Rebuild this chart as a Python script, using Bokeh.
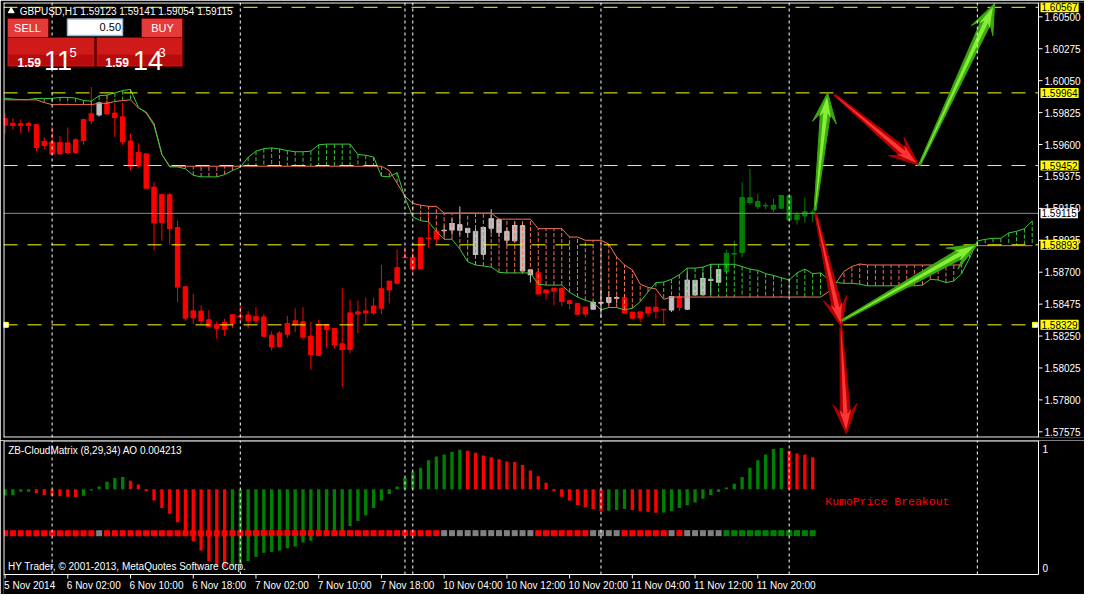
import math
from bokeh.plotting import figure
from bokeh.layouts import column
from bokeh.models import Range1d, Span, Label, BoxAnnotation
from bokeh.core.properties import value
from bokeh.embed import file_html
from bokeh.resources import INLINE

# ------------------------------------------------------------------ data
SYMBOL = "GBPUSD,H1"
INDICATOR = "ZB-CloudMatrix (8,29,34)"
SIGNAL_TEXT = "KumoPrice Breakout"
COPYRIGHT = "HY Trader, \u00a9 2001-2013, MetaQuotes Software Corp."
LOT = "0.50"
ASK = 1.59143

OPEN = [1.59783, 1.59750, 1.59746, 1.59750, 1.59740, 1.59593, 1.59618, 1.59534, 1.59612, 1.59544,
        1.59628, 1.59767, 1.59808, 1.59892, 1.59822, 1.59795, 1.59625, 1.59449, 1.59534, 1.59300,
        1.59049, 1.59246, 1.59015, 1.58597, 1.58378, 1.58426, 1.58365, 1.58331, 1.58297, 1.58338,
        1.58392, 1.58399, 1.58358, 1.58385, 1.58256, 1.58175, 1.58263, 1.58358, 1.58351, 1.58250,
        1.58114, 1.58331, 1.58304, 1.58196, 1.58155, 1.58405, 1.58412, 1.58412, 1.58446, 1.58575,
        1.58622, 1.58802, 1.58805, 1.58724, 1.58941, 1.58934, 1.58992, 1.58997, 1.59036, 1.59009,
        1.58988, 1.58826, 1.59009, 1.59070, 1.58988, 1.58921, 1.59029, 1.58717, 1.58697, 1.58575,
        1.58588, 1.58588, 1.58500, 1.58480, 1.58405, 1.58439, 1.58487, 1.58487, 1.58521, 1.58521,
        1.58419, 1.58378, 1.58412, 1.58453, 1.58439, 1.58433, 1.58527, 1.58439, 1.58643, 1.58541,
        1.58650, 1.58629, 1.58704, 1.58832, 1.58839, 1.59225, 1.59198, 1.59171, 1.59144, 1.59151,
        1.59239, 1.59070, 1.59097, 1.59123]
HIGH = [1.59820, 1.59786, 1.59774, 1.59757, 1.59740, 1.59652, 1.59727, 1.59659, 1.59720, 1.59644,
        1.59783, 1.60005, 1.59901, 1.59955, 1.59892, 1.59896, 1.59677, 1.59610, 1.59534, 1.59334,
        1.59253, 1.59259, 1.59063, 1.58604, 1.58548, 1.58466, 1.58433, 1.58351, 1.58372, 1.58399,
        1.58466, 1.58426, 1.58453, 1.58406, 1.58284, 1.58284, 1.58392, 1.58446, 1.58453, 1.58351,
        1.58365, 1.58331, 1.58304, 1.58588, 1.58507, 1.58500, 1.58521, 1.58521, 1.58751, 1.58636,
        1.58860, 1.58880, 1.58866, 1.58948, 1.59117, 1.58995, 1.59029, 1.59078, 1.59164, 1.59009,
        1.59009, 1.59015, 1.59144, 1.59076, 1.59015, 1.59056, 1.59049, 1.58717, 1.58704, 1.58575,
        1.58588, 1.58588, 1.58500, 1.58480, 1.58453, 1.58500, 1.58568, 1.58568, 1.58534, 1.58521,
        1.58419, 1.58419, 1.58453, 1.58548, 1.58439, 1.58527, 1.58527, 1.58704, 1.58643, 1.58704,
        1.58758, 1.58717, 1.58860, 1.58921, 1.59334, 1.59429, 1.59253, 1.59192, 1.59219, 1.59239,
        1.59239, 1.59124, 1.59225, 1.59141]
LOW = [1.59677, 1.59705, 1.59677, 1.59688, 1.59553, 1.59566, 1.59534, 1.59534, 1.59530, 1.59535,
       1.59598, 1.59745, 1.59797, 1.59817, 1.59654, 1.59596, 1.59417, 1.59440, 1.59293, 1.58853,
       1.58921, 1.58893, 1.58487, 1.58358, 1.58333, 1.58333, 1.58319, 1.58230, 1.58250, 1.58306,
       1.58358, 1.58304, 1.58338, 1.58243, 1.58148, 1.58168, 1.58236, 1.58277, 1.58223, 1.58012,
       1.58114, 1.58168, 1.58162, 1.57891, 1.58128, 1.58270, 1.58338, 1.58399, 1.58405, 1.58480,
       1.58616, 1.58802, 1.58697, 1.58724, 1.58873, 1.58900, 1.58954, 1.58963, 1.58963, 1.58943,
       1.58807, 1.58812, 1.58977, 1.58948, 1.58887, 1.58914, 1.58690, 1.58627, 1.58541, 1.58509,
       1.58466, 1.58460, 1.58439, 1.58401, 1.58385, 1.58439, 1.58378, 1.58473, 1.58480, 1.58412,
       1.58372, 1.58351, 1.58385, 1.58372, 1.58338, 1.58419, 1.58426, 1.58433, 1.58534, 1.58534,
       1.58541, 1.58629, 1.58704, 1.58758, 1.58805, 1.59178, 1.59144, 1.59144, 1.59124, 1.59151,
       1.59070, 1.59036, 1.59049, 1.59054]
CLOSE = [1.59738, 1.59736, 1.59736, 1.59734, 1.59580, 1.59620, 1.59534, 1.59612, 1.59544, 1.59632,
         1.59774, 1.59815, 1.59892, 1.59817, 1.59790, 1.59620, 1.59449, 1.59544, 1.59293, 1.59049,
         1.59246, 1.59009, 1.58597, 1.58378, 1.58426, 1.58358, 1.58319, 1.58306, 1.58345, 1.58399,
         1.58388, 1.58358, 1.58385, 1.58250, 1.58175, 1.58270, 1.58338, 1.58331, 1.58243, 1.58121,
         1.58331, 1.58297, 1.58189, 1.58155, 1.58412, 1.58419, 1.58426, 1.58460, 1.58582, 1.58636,
         1.58731, 1.58805, 1.58724, 1.58941, 1.58938, 1.58988, 1.58995, 1.59043, 1.58997, 1.58982,
         1.58826, 1.59015, 1.59076, 1.58982, 1.58927, 1.59029, 1.58710, 1.58683, 1.58548, 1.58555,
         1.58568, 1.58494, 1.58480, 1.58405, 1.58453, 1.58487, 1.58483, 1.58521, 1.58517, 1.58412,
         1.58378, 1.58419, 1.58453, 1.58426, 1.58436, 1.58527, 1.58453, 1.58643, 1.58541, 1.58656,
         1.58643, 1.58717, 1.58832, 1.58829, 1.59225, 1.59192, 1.59164, 1.59168, 1.59171, 1.59239,
         1.59070, 1.59103, 1.59124, 1.59115]

# cloud state per bar: r = below cloud, n = inside cloud, g = above cloud
STATE_RUNS = [("r", 12), ("n", 1), ("r", 43), ("n", 12), ("r", 7), ("n", 4),
              ("r", 6), ("n", 1), ("r", 1), ("n", 5), ("g", 12)]

SPAN_A = [1.59927, 1.59920, 1.59917, 1.59917, 1.59925, 1.59925, 1.59925, 1.59932, 1.59932, 1.59927,
          1.59910, 1.59906, 1.59944, 1.59948, 1.59964, 1.59980, 1.59989, 1.59862, 1.59822, 1.59734,
          1.59530, 1.59442, 1.59442, 1.59429, 1.59383, 1.59372, 1.59372, 1.59372, 1.59388, 1.59417,
          1.59440, 1.59510, 1.59553, 1.59571, 1.59576, 1.59569, 1.59557, 1.59549, 1.59549, 1.59553,
          1.59598, 1.59603, 1.59603, 1.59603, 1.59603, 1.59530, 1.59524, 1.59512, 1.59377, 1.59372,
          1.59402, 1.59225, 1.59090, 1.59063, 1.59056, 1.58988, 1.58932, 1.58932, 1.58864, 1.58774,
          1.58751, 1.58744, 1.58736, 1.58699, 1.58695, 1.58695, 1.58695, 1.58695, 1.58616, 1.58609,
          1.58609, 1.58609, 1.58559, 1.58525, 1.58502, 1.58487, 1.58435, 1.58451, 1.58451, 1.58435,
          1.58446, 1.58492, 1.58561, 1.58627, 1.58631, 1.58650, 1.58683, 1.58729, 1.58729, 1.58736,
          1.58756, 1.58756, 1.58756, 1.58756, 1.58740, 1.58722, 1.58713, 1.58690, 1.58677, 1.58661,
          1.58645, 1.58695, 1.58722, 1.58690, 1.58695, 1.58650, 1.58627, 1.58622, 1.58622, 1.58616,
          1.58604, 1.58604, 1.58604, 1.58604, 1.58604, 1.58604, 1.58604, 1.58609, 1.58650, 1.58645,
          1.58627, 1.58638, 1.58690, 1.58799, 1.58920, 1.58932, 1.58939, 1.58939, 1.58977, 1.58988,
          1.59007, 1.59061]
SPAN_B = [1.59915, 1.59915, 1.59915, 1.59915, 1.59915, 1.59896, 1.59881, 1.59881, 1.59881, 1.59881,
          1.59881, 1.59881, 1.59891, 1.59891, 1.59903, 1.59910, 1.59915, 1.59858, 1.59828, 1.59747,
          1.59530, 1.59447, 1.59447, 1.59447, 1.59447, 1.59447, 1.59447, 1.59447, 1.59447, 1.59447,
          1.59447, 1.59447, 1.59447, 1.59447, 1.59447, 1.59447, 1.59447, 1.59447, 1.59447, 1.59447,
          1.59447, 1.59447, 1.59447, 1.59447, 1.59447, 1.59447, 1.59447, 1.59447, 1.59447, 1.59417,
          1.59327, 1.59237, 1.59185, 1.59173, 1.59164, 1.59164, 1.59117, 1.59117, 1.59117, 1.59117,
          1.59117, 1.59117, 1.59117, 1.59074, 1.59074, 1.59074, 1.59074, 1.59074, 1.59007, 1.59007,
          1.59007, 1.59007, 1.58948, 1.58948, 1.58925, 1.58925, 1.58925, 1.58898, 1.58807, 1.58751,
          1.58717, 1.58616, 1.58593, 1.58582, 1.58509, 1.58525, 1.58525, 1.58525, 1.58525, 1.58525,
          1.58525, 1.58525, 1.58525, 1.58525, 1.58525, 1.58525, 1.58525, 1.58525, 1.58525, 1.58525,
          1.58525, 1.58525, 1.58525, 1.58525, 1.58525, 1.58561, 1.58627, 1.58706, 1.58740, 1.58758,
          1.58751, 1.58751, 1.58751, 1.58751, 1.58751, 1.58751, 1.58751, 1.58751, 1.58751, 1.58751,
          1.58751, 1.58751, 1.58751, 1.58887, 1.58887, 1.58887, 1.58887, 1.58887, 1.58887, 1.58887,
          1.58887, 1.58887]

AO = [-0.000805, -0.000743, -0.000335, -0.000310, -0.000496, -0.000743, -0.000867, -0.000929, -0.000991, -0.001028,
      -0.000867, -0.000161, 0.000372, 0.000991, 0.001487, 0.001611, 0.001115, 0.000620, -0.000248, -0.001487,
      -0.002478, -0.003221, -0.004337, -0.005910, -0.006852, -0.008091, -0.009503, -0.010098, -0.010259, -0.010222,
      -0.009825, -0.009503, -0.008921, -0.008388, -0.008264, -0.008091, -0.007769, -0.007558, -0.007025, -0.006815,
      -0.006195, -0.006034, -0.005910, -0.005613, -0.004869, -0.004175, -0.003432, -0.002478, -0.001487, -0.000620,
      0.000372, 0.001524, 0.002354, 0.002850, 0.003841, 0.004337, 0.004584, 0.004956, 0.005204, 0.005080,
      0.004832, 0.004460, 0.004213, 0.003965, 0.003655, 0.003593, 0.003221, 0.002478, 0.001735, 0.000867,
      -0.000248, -0.000991, -0.001487, -0.002106, -0.002354, -0.002602, -0.002850, -0.002825, -0.002726, -0.002602,
      -0.002726, -0.002850, -0.002974, -0.003098, -0.003073, -0.002850, -0.002478, -0.002106, -0.001735, -0.001239,
      -0.000743, -0.000372, 0.000248, 0.000743, 0.001611, 0.002850, 0.003841, 0.004584, 0.005328, 0.005452,
      0.005080, 0.004708, 0.004584, 0.004213]
SIGNAL_LEVEL = -0.00579

LEVELS = [1.60567, 1.59964, 1.59452, 1.58893, 1.58329]
PRICE_TICKS = [1.57575, 1.57800, 1.58025, 1.58250, 1.58475, 1.58700, 1.58925,
               1.59150, 1.59375, 1.59600, 1.59825, 1.60050, 1.60275, 1.60500]
SUB_TICKS = [0, 1]
VLINE_BARS = [6, 30, 51, 52, 76, 100, 124]
TICK_BARS = [0, 8, 16, 24, 32, 40, 48, 56, 64, 72, 80, 88, 96]
TICK_LABELS = ["5 Nov 2014", "6 Nov 02:00", "6 Nov 10:00", "6 Nov 18:00", "7 Nov 02:00",
               "7 Nov 10:00", "7 Nov 18:00", "10 Nov 04:00", "10 Nov 12:00", "10 Nov 20:00",
               "11 Nov 04:00", "11 Nov 12:00", "11 Nov 20:00"]
# arrows: (bar from, price from, bar to, price to, colour)
ARROWS = [(103.3, 1.59137, 104.9, 1.59964, "g"),
          (105.8, 1.59950, 116.6, 1.59452, "r"),
          (116.6, 1.59452, 126.2, 1.60594, "g"),
          (103.4, 1.59110, 106.7, 1.58311, "r"),
          (106.6, 1.58311, 107.3, 1.57560, "r"),
          (106.7, 1.58358, 124.1, 1.58900, "g")]

# ------------------------------------------------------------------ layout
FONT = "Liberation Sans"
X0, X1 = -0.2, 131.8          # chart area (bars)
Y0, Y1 = 1.57535, 1.60601     # price range
CW = 1035                     # chart-area width in px
FW = 1081                     # frame width incl. price scale
MH, LH, BOT = 435, 134, 20
AO0, AO1 = -0.01125, 0.00644
S0, S1 = -0.055, 1.071
XS = CW / (X1 - X0)
X1F = X0 + FW / XS
YS = MH / (Y1 - Y0)
AS = LH / (AO1 - AO0)
AOF0 = AO0 - BOT / AS

SALMON = "#F87058"
LIME = "#36CC36"
CANDLE_COL = {"r": "#FF0000", "n": "#C0C0C0", "g": "#008000"}
SQUARE_COL = {"r": "#FF0000", "n": "#808080", "g": "#008000"}


def mxy(px, py):
    return X0 + px / XS, Y1 - py / YS


def lxy(px, py):
    return X0 + px / XS, AO1 - py / AS


def arrow_pts(xa, ya, xb, yb, hl, hw, notch, s0, s1, back=0.0):
    ax_, ay_ = (xa - X0) * XS, (ya - Y0) * YS
    bx_, by_ = (xb - X0) * XS, (yb - Y0) * YS
    dx, dy = bx_ - ax_, by_ - ay_
    L = math.hypot(dx, dy)
    ux, uy = dx / L, dy / L
    nx, ny = -uy, ux
    tx, ty = bx_ - ux * back, by_ - uy * back
    ax_, ay_ = ax_ + ux * back, ay_ + uy * back
    jx, jy = tx - ux * (hl - notch), ty - uy * (hl - notch)
    kx, ky = tx - ux * hl, ty - uy * hl
    pts = [(ax_ + nx * s0, ay_ + ny * s0), (jx + nx * s1, jy + ny * s1),
           (kx + nx * hw, ky + ny * hw), (tx, ty), (kx - nx * hw, ky - ny * hw),
           (jx - nx * s1, jy - ny * s1), (ax_ - nx * s0, ay_ - ny * s0)]
    return [X0 + u / XS for u, _ in pts], [Y0 + v / YS for _, v in pts]


state = "".join(c * k for c, k in STATE_RUNS)
n = len(CLOSE)
xi = list(range(n))

# ------------------------------------------------------------------ main chart
p = figure(frame_width=FW, frame_height=MH, x_range=Range1d(X0, X1F), y_range=Range1d(Y0, Y1),
           x_axis_location=None, y_axis_location=None, toolbar_location=None,
           output_backend="svg", background_fill_color="black", border_fill_color="black",
           outline_line_color=None, min_border_left=3, min_border_right=0,
           min_border_top=2, min_border_bottom=3)
p.xgrid.visible = False
p.ygrid.visible = False

ccol = [CANDLE_COL[s] for s in state]
p.segment(xi, LOW, xi, HIGH, line_color=ccol, line_width=1)
p.vbar(x=xi, width=0.56, top=[max(o, c) for o, c in zip(OPEN, CLOSE)],
       bottom=[min(o, c) for o, c in zip(OPEN, CLOSE)],
       fill_color=ccol, line_color=ccol, line_width=1)
p.segment([x - 0.34 for x in xi], CLOSE, [x + 0.34 for x in xi], CLOSE, line_color=ccol, line_width=1)

ci = list(range(len(SPAN_A)))
hcol = [LIME if a >= b else SALMON for a, b in zip(SPAN_A, SPAN_B)]
p.segment(ci, SPAN_A, ci, SPAN_B, line_color=hcol, line_dash="4 2", line_width=1)
p.line(ci, SPAN_B, line_color=SALMON, line_width=1)
p.line(ci, SPAN_A, line_color=LIME, line_width=1)

k = len(LEVELS)
p.segment([X0] * k, LEVELS, [X1] * k, LEVELS, line_color="#FFFF00", line_dash="14 10", line_width=1)
p.segment([X0], [CLOSE[-1]], [X1], [CLOSE[-1]], line_color="#8C8C8C", line_width=1)
for b in VLINE_BARS:
    p.add_layout(Span(location=b, dimension="height", line_color="white",
                      line_dash="3 3", line_width=1))

p.scatter([X0 + 0.3, X1 - 0.45], [LEVELS[-1], LEVELS[-1]], marker="square", size=5,
          fill_color="white", line_color="#FFFF00", line_width=1)

# arrows
ARROW_COL = {"g": ("#3BA80F", "#86EE36"), "r": ("#B00000", "#FF3434")}
oxs, oys, ocs, ixs, iys, ics = [], [], [], [], [], []
for xa, yA, xb, yB, c in ARROWS:
    ox, oy = arrow_pts(xa, yA, xb, yB, 30, 12, 9, 1.0, 5.0)
    ix, iy = arrow_pts(xa, yA, xb, yB, 21, 6, 5, 0.3, 2.2, back=4)
    oxs.append(ox); oys.append(oy); ocs.append(ARROW_COL[c][0])
    ixs.append(ix); iys.append(iy); ics.append(ARROW_COL[c][1])
p.patches(oxs, oys, fill_color=ocs, line_color=ocs, line_width=1)
p.patches(ixs, iys, fill_color=ics, line_color=None)

# frame borders and price scale
px1 = 0.5 / XS
py1 = 0.5 / YS
p.segment([X0 + px1, X0, X0, X1], [Y0, Y1 - py1, Y0 + py1, Y0],
          [X0 + px1, X1, X1, X1], [Y1, Y1 - py1, Y0 + py1, Y1], line_color="white", line_width=1)
kt = len(PRICE_TICKS)
p.segment([X1] * kt, PRICE_TICKS, [X1 + 4 / XS] * kt, PRICE_TICKS, line_color="white", line_width=1)
p.text(x=[X1 + 6 / XS] * kt, y=PRICE_TICKS, text=[f"{t:.5f}" for t in PRICE_TICKS],
       text_font=value(FONT), text_font_size="10px", text_color="white",
       text_baseline="middle", text_align="left")

for lv in LEVELS:
    p.add_layout(Label(x=X1, y=lv, x_offset=2, text=f"{lv:.5f}", text_align="left",
                       text_baseline="middle", text_color="black", text_font=FONT,
                       text_font_size="10px", background_fill_color="#FFFF00", padding=1))
p.add_layout(Label(x=X1, y=CLOSE[-1], x_offset=2, text=f"{CLOSE[-1]:.5f}", text_align="left",
                   text_baseline="middle", text_color="black", text_font=FONT,
                   text_font_size="10px", background_fill_color="white", padding=1))

# header
tx, ty = mxy(7.7, 8.5)
p.scatter([tx], [ty], marker="triangle", size=6, fill_color="white", line_color="white")
hx, hy = mxy(16.3, 8.7)
p.add_layout(Label(x=hx, y=hy, text=f"{SYMBOL} {OPEN[-1]:.5f} {HIGH[-1]:.5f} {LOW[-1]:.5f} {CLOSE[-1]:.5f}",
                   text_baseline="middle", text_color="white", text_font=FONT, text_font_size="10px"))


# one-click trading panel
def box(l, t, r, b, fill, line, lw=1):
    x_l, y_t = mxy(l, t)
    x_r, y_b = mxy(r, b)
    p.add_layout(BoxAnnotation(left=x_l, right=x_r, top=y_t, bottom=y_b, fill_color=fill,
                               fill_alpha=1, line_color=line, line_width=lw, line_alpha=1))


box(4, 16, 45, 36, "#E43A3A", "#7A0000")
box(138, 16, 179, 36, "#E43A3A", "#7A0000")
box(4, 35, 91, 64, "#CF1A1A", "#7A0000")
box(93, 35, 179, 64, "#CF1A1A", "#7A0000")
box(5, 52, 90, 63, "#B80C0C", None, 0)
box(94, 52, 178, 63, "#B80C0C", None, 0)
box(64, 16.5, 119, 33, "white", "#9DB9D5", 1.5)


def txt(px, py, s, size, color="white", align="left", base="middle", style="normal"):
    x, y = mxy(px, py)
    p.add_layout(Label(x=x, y=y, text=s, text_align=align, text_baseline=base,
                       text_color=color, text_font=FONT, text_font_size=size,
                       text_font_style=style))


bid_s = f"{CLOSE[-1]:.5f}"
ask_s = f"{ASK:.5f}"
txt(24, 25.5, "SELL", "11px", align="center")
txt(159, 25.5, "BUY", "11px", align="center")
txt(117.5, 24.7, LOT, "11px", color="black", align="right")
txt(14, 59.5, bid_s[:4], "12px", base="alphabetic", style="bold")
txt(40.5, 58, bid_s[4:6], "27px", base="alphabetic")
txt(66, 49.5, bid_s[6], "13px", base="alphabetic")
txt(102, 59.5, ask_s[:4], "12px", base="alphabetic", style="bold")
txt(129.5, 58, ask_s[4:6], "27px", base="alphabetic")
txt(155, 49.5, ask_s[6], "13px", base="alphabetic")

# ------------------------------------------------------------------ indicator panel
q = figure(frame_width=FW, frame_height=LH + BOT, x_range=p.x_range, y_range=Range1d(AOF0, AO1),
           x_axis_location=None, y_axis_location=None, toolbar_location=None, output_backend="svg",
           background_fill_color="black", border_fill_color="black", outline_line_color=None,
           min_border_left=3, min_border_right=0, min_border_top=0, min_border_bottom=0)
q.xgrid.visible = False
q.ygrid.visible = False

aocol = ["#008000"] + ["#008000" if AO[i] > AO[i - 1] else "#FF0000" for i in range(1, n)]
q.vbar(x=xi, width=0.42, top=AO, bottom=0, fill_color=aocol, line_color=None)
q.scatter(xi, [SIGNAL_LEVEL] * n, marker="square", size=6,
          fill_color=[SQUARE_COL[s] for s in state], line_color=None)
kv = len(VLINE_BARS)
q.segment(VLINE_BARS, [AO0] * kv, VLINE_BARS, [AO1] * kv, line_color="white",
          line_dash="3 3", line_width=1)

# borders, time scale, sub-window scale
qa = 0.5 / AS
q.segment([X0 + px1, X0, X0, X1], [AO0, AO1 - qa, AO0, AO0],
          [X0 + px1, X1, X1, X1], [AO1, AO1 - qa, AO0, AO1], line_color="white", line_width=1)
ktb = len(TICK_BARS)
q.segment(TICK_BARS, [AO0] * ktb, TICK_BARS, [AO0 - 4 / AS] * ktb, line_color="white", line_width=1)
q.text(x=TICK_BARS, y=[AO0 - 5 / AS] * ktb, text=TICK_LABELS, x_offset=-1,
       text_font=value(FONT), text_font_size="10px", text_color="white",
       text_baseline="top", text_align="left")
sub_y = [AO0 + (v - S0) / (S1 - S0) * (AO1 - AO0) for v in SUB_TICKS]
q.text(x=[X1 + 4 / XS] * len(SUB_TICKS), y=sub_y, text=[str(v) for v in SUB_TICKS],
       text_font=value(FONT), text_font_size="10px", text_color="white",
       text_baseline="middle", text_align="left")

ix_, iy_ = lxy(4.7, 9.5)
q.add_layout(Label(x=ix_, y=iy_, text=f"{INDICATOR}  AO {AO[-1]:.6f}", text_baseline="middle",
                   text_color="white", text_font=FONT, text_font_size="10px"))
cx_, cy_ = lxy(4.5, LH - 8)
q.add_layout(Label(x=cx_, y=cy_, text=COPYRIGHT, text_baseline="middle",
                   text_color="white", text_font=FONT, text_font_size="10px"))
q.add_layout(Label(x=104.6, y=-0.00161, text=SIGNAL_TEXT, text_baseline="middle",
                   text_color="#FF0000", text_font="Liberation Mono", text_font_size="11.5px"))

layout = column(p, q, spacing=0)
open("out.html", "w").write(file_html(layout, INLINE))
